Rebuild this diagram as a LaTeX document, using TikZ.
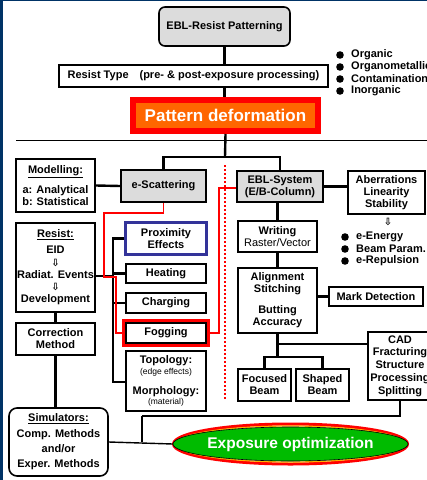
\documentclass[tikz,border=0pt]{standalone}
\usepackage{fontspec}
\setmainfont{Liberation Sans}
\newfontfamily\dejavu{DejaVu Sans}
\usetikzlibrary{shapes.geometric,fit}
\definecolor{frameblue}{HTML}{003366}
\definecolor{boxgray}{HTML}{DCDCDC}
\definecolor{patorange}{HTML}{FF6600}
\definecolor{proxblue}{HTML}{333399}
\definecolor{expogreen}{HTML}{00BB00}
\definecolor{ringorange}{HTML}{FFB000}
\tikzset{
  box/.style={draw, line width=1.6pt, fill=white, align=center, inner sep=0pt,
    font=\bfseries\fontsize{11}{12}\selectfont},
  gbox/.style={box, fill=boxgray},
  conn/.style={line width=2.4pt},
  thinconn/.style={line width=1.4pt},
  redline/.style={draw=red, line width=1.8pt},
  bul/.style={anchor=west, inner sep=0pt, font=\bfseries\fontsize{11}{12}\selectfont},
}
\newcommand{\smtx}{\mdseries\fontsize{8.5}{9}\selectfont}
\newcommand{\dar}{{\dejavu\bfseries\fontsize{10}{10}\selectfont ⇩}}
\begin{document}
\begin{tikzpicture}[x=1pt,y=-1pt]
\useasboundingbox (0,0) rectangle (427,480);
\clip (0,0) rectangle (427,480);
\fill[white] (0,0) rectangle (427,480);
\fill[frameblue] (0,0) rectangle (3.3,480);
\fill[frameblue] (0,0) rectangle (427,1.2);

% top part
\node[gbox, rounded corners=6pt, minimum width=131, minimum height=39] (top) at (224.5,26.5) {EBL-Resist Patterning};
\node[box, minimum width=269, minimum height=22] (rtype) at (193.5,76) {Resist Type\quad(pre- \& post-exposure processing)};
\node[draw=red, fill=patorange, line width=6pt, minimum width=185, minimum height=31, inner sep=0pt,
  text=white, font=\bfseries\fontsize{17}{19}\selectfont] (pat) at (225.5,115.5) {Pattern deformation};
\draw[conn] (top.south) -- (top.south |- rtype.north);
\draw[conn] (top.south |- rtype.south) -- (top.south |- pat.north);

\foreach \yy/\tt [count=\i] in {55/Organic,67/Organometallic,79/Contamination,91/Inorganic}{
  \fill (340,\yy) circle (3.8);
  \node[bul] (tb\i) at (351,\yy) {\tt};
}

\coordinate (hl1) at (16,140);
\coordinate (hl2) at (427,140);
\draw[line width=0.9pt] (hl1) -- (hl2);

% second level
\node[gbox, minimum width=85, minimum height=32] (escat) at (163.5,186) {e-Scattering};
\node[gbox, minimum width=86, minimum height=31] (ebl) at (280,186.5) {EBL-System\\(E/B-Column)};
\coordinate (jn1) at (225,157);
\draw[conn] (pat.south) -- (jn1);
\draw[conn] (escat.north) |- (jn1) -| (ebl.north);

% left column
\node[box, minimum width=79, minimum height=53] (model) at (55.5,185.5) {\underline{Modelling:}\\[6pt]a: Analytical\\b: Statistical};
\node[box, minimum width=79, minimum height=89] (resist) at (55.5,267.5) {\underline{Resist:}\\[4pt]EID\\[0.3pt]\dar\\[0.3pt]Radiat. Events\\[0.3pt]\dar\\[0.3pt]Development};
\node[box, minimum width=79, minimum height=32] (corr) at (55.5,339) {Correction\\Method};
\node[box, rounded corners=8pt, minimum width=99, minimum height=68, font=\bfseries\fontsize{11}{15}\selectfont] (sim) at (58.5,442) {\underline{Simulators:}\\[1pt]Comp. Methods\\and/or\\Exper. Methods};
\draw[conn] (model.east) -- (escat.west);
\draw[conn] (resist.south) -- (resist.south |- corr.north);
\draw[conn] (corr.south) -- (corr.south |- sim.north);

% middle column
\node[box, draw=proxblue, line width=3pt, minimum width=81, minimum height=32] (prox) at (166,238.5) {Proximity\\Effects};
\node[box, minimum width=80, minimum height=19] (heat) at (166,273.5) {Heating};
\node[box, minimum width=80, minimum height=20] (charg) at (166,303) {Charging};
\node[box, minimum width=80, minimum height=20] (fog) at (166,333) {Fogging};
\node[draw=red, line width=2.6pt, fit=(fog), inner sep=1.6pt] (fogf) {};
\node[box, minimum width=80, minimum height=60] (topo) at (166,381) {Topology:\\[-1.5pt]{\smtx (edge effects)}\\[8pt]Morphology:\\[-1.5pt]{\smtx (material)}};

\coordinate (brT) at (113,238.5);
\coordinate (brB) at (113,382);
\coordinate (brR) at (113,276);
\draw[conn] (prox.west) -- (brT) -- (brB) -- (brB -| topo.west);
\draw[conn] (heat.west) -- (heat.west -| brT);
\draw[conn] (charg.west) -- (charg.west -| brT);
\draw[conn] (resist.east |- brR) -- (brR);

% red connectors
\coordinate (r1) at (104,213);
\coordinate (r2) at (116,277);
\coordinate (r3) at (219,188);
\draw[redline] (escat.south) |- (r1) |- (r2) |- (fogf.west);
\draw[redline] (fogf.east) -| (r3) -- (r3 -| ebl.west);
\coordinate (d1) at (225,165);
\coordinate (d2) at (225,400);
\draw[draw=red, line width=1.8pt, dash pattern=on 2pt off 2pt] (d1) -- (d2);

% right column
\node[box, minimum width=77, minimum height=43] (abr) at (386.5,192.5) {Aberrations\\Linearity\\Stability};
\draw[conn] (ebl.east) -- (ebl.east -| abr.west);
\node[inner sep=0pt] (abarrow) at (388,222) {\dar};
\foreach \yy/\tt [count=\i] in {237/e-Energy,249/Beam Param.,261/e-Repulsion}{
  \fill (345,\yy) circle (3.8);
  \node[bul] (rb\i) at (356,\yy) {\tt};
}
\node[box, minimum width=79, minimum height=31] (writ) at (277.5,236.5) {Writing\\{\mdseries Raster/Vector}};
\node[box, minimum width=79, minimum height=65] (align) at (277.5,300.5) {Alignment\\Stitching\\[9pt]Butting\\Accuracy};
\node[box, minimum width=94, minimum height=19] (mark) at (376,296.5) {Mark Detection};
\node[box, minimum width=64, minimum height=68, font=\bfseries\fontsize{11}{12.8}\selectfont] (cad) at (400,366) {CAD\\Fracturing\\Structure\\Processing\\Splitting};
\node[box, minimum width=53, minimum height=32] (focus) at (264.5,385) {Focused\\Beam};
\node[box, minimum width=53, minimum height=32] (shaped) at (322.5,385) {Shaped\\Beam};
\draw[conn] (ebl.south -| writ.north) -- (writ.north);
\draw[conn] (writ.south) -- (align.north);
\draw[conn] (align.east |- mark.west) -- (mark.west);
\coordinate (j3) at (277.5,344);
\coordinate (bar) at (277.5,357);
\draw[conn] (align.south) -- (bar);
\draw[conn] (j3) -- (j3 -| cad.west);
\draw[conn] (focus.north) |- (bar) -| (shaped.north);

% exposure optimization
\draw[red, line width=3pt] (290.5,444) ellipse [x radius=117, y radius=20];
\draw[ringorange, line width=1.2pt] (290.5,444) ellipse [x radius=115, y radius=18];
\node[ellipse, fill=expogreen, draw=black, line width=0.6pt, minimum width=228, minimum height=34, inner sep=0pt,
  text=white, font=\bfseries\fontsize{15.5}{17}\selectfont] (expo) at (290.5,444) {Exposure optimization};
\coordinate (j4) at (142,416);
\draw[conn] (cad.south) |- (j4);
\draw[thinconn] (j4) -- (j4 |- sim.east);
\draw[thinconn] (sim.east) -- (expo.west);
\end{tikzpicture}
\end{document}
